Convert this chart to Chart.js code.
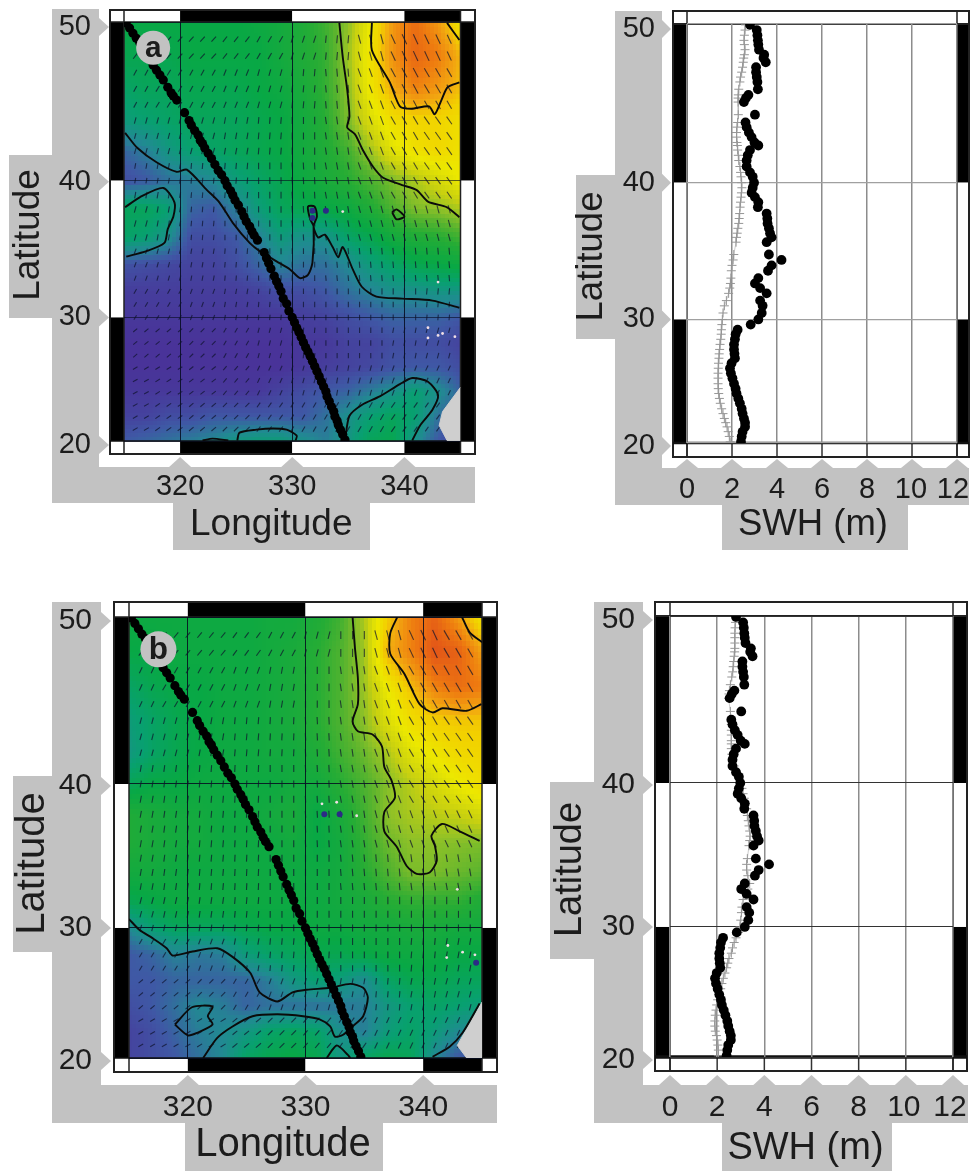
<!DOCTYPE html>
<html>
<head>
<meta charset="utf-8">
<title>SWH maps</title>
<script src="https://cdn.jsdelivr.net/npm/chart.js@4/dist/chart.umd.js"></script>
<style>
  html, body { margin: 0; padding: 0; background: #fff; overflow: hidden; }
  canvas { position: absolute; filter: blur(0.45px); }
</style>
</head>
<body>
<canvas id="mapA" width="500" height="570" style="left:0;top:0"></canvas>
<canvas id="swhA" width="472" height="570" style="left:500px;top:0"></canvas>
<canvas id="mapB" width="510" height="596" style="left:0;top:575px"></canvas>
<canvas id="swhB" width="462" height="596" style="left:510px;top:575px"></canvas>
<script>
// tick labels
const lonTicks = [320, 330, 340];
const latTicks = [50, 40, 30, 20];
const swhTicks = [0, 2, 4, 6, 8, 10, 12];

// altimeter track, one entry per black dot
const trackLat = [
  49.95,49.65,49.35,49.05,48.8,48.5,48.2,48.0,47.75,47.45,
  47.15,46.85,46.55,46.1,45.75,45.55,45.3,44.5,44.0,43.7,
  43.35,43.05,42.7,42.5,42.2,41.85,41.5,41.1,40.7,40.4,
  40.0,39.65,39.3,39.0,38.65,38.3,37.85,37.5,37.15,36.8,
  36.45,36.15,35.8,34.9,34.5,34.1,33.7,33.15,32.75,32.4,
  32.0,31.45,31.05,30.5,30.0,29.6,29.2,28.85,28.45,28.05,
  27.65,27.3,26.95,26.55,26.15,25.75,25.35,24.9,24.5,24.1,
  23.7,23.3,22.85,22.45,22.05,21.7,21.35,20.95,20.55,20.1];
const trackLon = [
  315.2,315.5,315.8,316.1,316.4,316.6,316.9,317.1,317.4,317.6,
  317.9,318.2,318.5,318.9,319.2,319.4,319.7,320.4,320.8,321.0,
  321.3,321.6,321.8,322.0,322.2,322.5,322.8,323.1,323.4,323.7,
  324.0,324.2,324.5,324.7,324.9,325.2,325.5,325.7,325.9,326.2,
  326.4,326.6,326.9,327.5,327.7,327.9,328.1,328.4,328.6,328.8,
  329.0,329.2,329.5,329.7,330.0,330.2,330.4,330.6,330.8,331.0,
  331.2,331.4,331.6,331.8,332.0,332.2,332.4,332.6,332.8,333.0,
  333.1,333.3,333.5,333.7,333.8,334.0,334.1,334.3,334.5,334.7];
const swhObs = [
  2.8,3.1,3.13,3.15,3.17,3.2,3.43,3.4,3.5,3.07,
  3.07,3.1,3.13,3.15,2.73,2.62,2.53,3.02,2.6,2.65,
  2.75,2.87,3.0,3.17,2.8,2.7,2.65,2.65,2.8,2.92,
  2.98,2.92,2.87,3.02,3.17,3.15,3.54,3.57,3.58,3.64,
  3.69,3.76,3.54,3.64,4.2,3.76,3.6,3.17,3.02,3.25,
  3.54,3.25,3.36,3.32,3.17,2.83,2.25,2.16,2.13,2.09,
  2.09,2.11,2.13,1.98,1.91,1.95,2.02,2.09,2.16,2.2,
  2.28,2.35,2.43,2.47,2.53,2.58,2.58,2.47,2.43,2.4];
const swhModelA = [
  2.6,2.58,2.55,2.53,2.55,2.58,2.55,2.52,2.5,2.47,
  2.43,2.38,2.35,2.3,2.28,2.27,2.27,2.28,2.25,2.22,
  2.2,2.2,2.22,2.24,2.25,2.28,2.3,2.35,2.38,2.4,
  2.43,2.44,2.42,2.4,2.38,2.36,2.34,2.32,2.3,2.26,
  2.23,2.2,2.18,2.08,2.05,2.0,1.97,1.95,1.93,1.9,
  1.85,1.75,1.66,1.6,1.57,1.55,1.53,1.52,1.5,1.47,
  1.45,1.43,1.42,1.4,1.39,1.38,1.38,1.38,1.39,1.41,
  1.44,1.48,1.54,1.6,1.66,1.72,1.78,1.83,1.88,1.92];
const swhModelB = [
  2.8,2.78,2.76,2.75,2.75,2.75,2.75,2.74,2.72,2.7,
  2.68,2.66,2.62,2.56,2.52,2.5,2.48,2.56,2.6,2.6,
  2.6,2.6,2.6,2.6,2.6,2.62,2.66,2.72,2.82,2.9,
  3.0,3.05,3.1,3.15,3.2,3.25,3.28,3.32,3.35,3.38,
  3.4,3.38,3.35,3.28,3.25,3.25,3.3,3.38,3.3,3.2,
  3.1,3.05,3.03,3.0,2.97,2.9,2.8,2.72,2.65,2.6,
  2.5,2.45,2.4,2.33,2.26,2.2,2.15,2.08,2.02,1.98,
  1.95,1.92,1.9,1.9,1.92,1.97,2.0,2.03,2.05,2.05];

// SWH colour field, rows run from 50N down to 20N, columns from 315 to 345
const gridLon = [315,317,319,321,323,325,327,329,331,333,335,337,339,341,343,345];
const gridLat = [50,48,46,44,42,40,38,36,34,32,30,28,26,24,22,20];
const fieldA = [
  [2.8,2.8,2.8,2.8,2.8,2.8,2.9,3.0,3.2,3.5,4.0,5.0,6.2,6.8,6.2,5.2],
  [2.7,2.7,2.7,2.8,2.8,2.8,2.8,3.0,3.2,3.4,4.1,5.2,6.3,6.9,6.6,5.9],
  [2.5,2.6,2.6,2.7,2.7,2.7,2.8,2.9,3.1,3.4,4.0,5.1,6.0,6.5,6.2,5.8],
  [2.3,2.4,2.5,2.6,2.6,2.6,2.7,2.8,3.0,3.3,3.9,4.7,5.3,5.5,5.5,5.3],
  [1.7,1.9,2.2,2.4,2.5,2.6,2.7,2.8,3.0,3.2,3.5,4.1,4.8,5.2,5.4,5.2],
  [1.5,1.6,1.8,1.9,2.0,2.3,2.5,2.7,2.9,3.1,3.3,3.6,3.9,4.2,4.6,5.0],
  [2.6,2.6,2.4,1.7,1.6,1.9,2.3,2.6,2.7,2.8,2.9,3.2,3.6,3.9,4.0,4.2],
  [2.5,2.4,2.1,1.5,1.5,1.6,1.9,2.3,2.1,2.1,2.5,2.7,3.0,3.2,3.3,3.5],
  [1.55,1.5,1.45,1.4,1.4,1.5,1.7,1.95,1.8,1.8,2.0,2.3,2.5,2.7,2.8,2.9],
  [1.35,1.35,1.35,1.35,1.35,1.35,1.4,1.5,1.5,1.6,1.8,1.95,2.1,2.1,2.2,2.2],
  [1.3,1.3,1.3,1.3,1.3,1.3,1.3,1.3,1.35,1.4,1.5,1.6,1.7,1.7,1.7,1.6],
  [1.25,1.25,1.25,1.25,1.25,1.25,1.25,1.25,1.3,1.3,1.4,1.4,1.5,1.5,1.5,1.4],
  [1.25,1.25,1.25,1.25,1.25,1.25,1.25,1.25,1.3,1.35,1.4,1.45,1.55,1.6,1.6,1.5],
  [1.3,1.3,1.3,1.3,1.3,1.3,1.3,1.4,1.5,1.6,1.7,1.9,2.1,2.4,2.1,1.7],
  [1.4,1.4,1.5,1.5,1.6,1.6,1.6,1.6,1.6,1.8,2.1,2.4,2.6,2.4,1.8,1.5],
  [1.6,1.7,1.8,1.9,2.0,2.2,2.3,2.3,2.1,1.9,2.2,2.6,2.7,2.1,1.6,1.4]];
const fieldB = [
  [2.9,2.9,2.9,2.9,2.9,2.9,3.0,3.0,3.2,3.5,4.2,5.6,6.5,7.0,6.2,5.2],
  [2.8,2.8,2.9,2.9,2.9,2.9,3.0,3.1,3.3,3.6,4.1,5.9,6.5,7.2,7.0,6.1],
  [2.5,2.7,2.8,2.8,2.9,2.9,3.0,3.1,3.3,3.6,4.1,5.0,5.8,6.5,6.8,6.6],
  [2.3,2.5,2.7,2.8,2.9,2.9,3.0,3.1,3.3,3.6,4.0,4.7,5.3,5.6,5.7,5.7],
  [2.2,2.5,2.7,2.8,2.9,2.9,3.0,3.0,3.2,3.5,3.8,4.2,4.8,5.1,5.4,5.5],
  [2.6,2.8,2.8,2.9,2.9,2.9,2.9,3.0,3.0,3.3,3.6,3.95,4.3,4.6,5.0,5.3],
  [3.2,3.1,3.0,3.0,2.9,2.9,3.0,3.1,2.8,3.1,3.5,4.0,4.2,4.3,4.4,4.6],
  [3.2,3.1,3.0,3.0,2.9,2.9,2.9,3.0,2.8,3.0,3.4,3.8,4.0,4.0,3.95,3.9],
  [3.0,3.0,2.9,2.9,2.9,2.9,2.9,2.9,2.9,3.0,3.3,3.6,3.9,3.9,3.8,3.7],
  [2.7,2.8,2.9,2.9,2.9,2.9,2.9,2.9,2.9,3.0,3.1,3.3,3.4,3.4,3.4,3.2],
  [2.0,2.4,2.6,2.6,2.6,2.7,2.8,2.8,2.9,2.9,3.0,3.0,3.1,3.1,3.0,3.0],
  [1.6,1.7,1.95,1.85,1.9,2.3,2.5,2.6,2.7,2.7,2.8,2.9,2.9,2.9,2.8,2.8],
  [1.6,1.6,1.7,1.7,1.7,1.7,1.9,2.2,2.4,2.3,2.0,2.5,2.7,2.7,2.6,2.6],
  [1.5,1.6,1.8,2.0,1.9,1.7,1.8,1.8,1.8,1.85,1.9,2.2,2.4,2.5,2.4,2.3],
  [1.4,1.5,1.7,1.9,2.0,2.2,2.5,2.6,2.5,2.1,1.9,2.3,2.5,2.3,2.0,1.9],
  [1.4,1.5,1.6,1.8,2.0,2.5,2.7,2.8,2.7,2.2,2.5,2.7,2.6,2.0,1.6,1.6]];

// wind sticks: tilt from vertical in degrees, one value per 3 x 3 degree box
const stickLon = [316,317,318,319,320,321,322,323,324,325,326,327,328,329,330,331,332,333,334,335,336,337,338,339,340,341,342,343,344];
const stickLat = [49,48,47,46,45,44,43,42,41,40,39,38,37,36,35,34,33,32,31,30,29,28,27,26,25,24,23,22,21];
const tiltA = [
  [38,42,42,38,30,18,5,-15,-25,-25],
  [28,32,28,22,15,5,-5,-20,-28,-30],
  [15,15,15,10,5,0,-8,-20,-30,-35],
  [10,10,5,5,0,-3,-10,-20,-30,-35],
  [15,10,5,0,0,-3,-10,-15,-15,-15],
  [20,15,10,5,0,0,-5,-5,-5,-5],
  [30,30,20,10,5,0,0,0,0,5],
  [50,50,45,30,15,5,0,0,10,15],
  [60,58,52,40,25,15,10,15,20,25],
  [60,55,50,45,35,30,30,30,35,35]];
const tiltB = [
  [36,40,40,36,28,15,0,-15,-25,-30],
  [25,30,28,20,10,0,-8,-20,-30,-30],
  [15,15,10,5,3,-3,-8,-20,-30,-35],
  [10,8,5,3,0,-3,-10,-20,-30,-35],
  [10,8,5,3,0,-3,-8,-15,-20,-25],
  [10,8,5,3,0,0,-5,-5,-8,-10],
  [15,12,8,5,0,0,0,0,0,0],
  [30,30,20,10,5,3,0,0,5,10],
  [50,50,45,30,20,15,10,5,10,15],
  [60,60,58,50,45,40,35,25,25,25]];

// contours of map a
const a1Lon = [334.2,334.5,334.9,335.1,334.9,335.6,336.3,337.2,338.1,339.8,341.1,342.1,343.8,344.9];
const a1Lat = [49.95,47.95,45.95,44.25,43.55,43.1,42.05,40.95,40.2,39.7,39.35,38.55,38.15,37.45];
const a2Lon = [315.1,316.2,317.9,319.7,320.6,322.4,323.5,324.7,326.2,327.1,328.6,329.8,330.7,331.4,331.8,331.9,331.6,331.4,332,332.2,331.9,332.3,332.9,333.6,334.1,334.5,335.4,336.2,337.5,339.8,342.5,344.9];
const a2Lat = [43.2,42.2,41.25,40.6,40.75,39.35,38.5,37.05,35.6,35,34.25,33.65,33,33.25,34.15,36.8,37.3,38.2,38.2,37.5,36.8,36,36.2,35.3,34.55,35.3,33.65,32.35,31.6,31.45,31.3,30.75];
const a3Lon = [337.1,337.1,338.7,339.6,340.6,342.2,342.7,343.3,343.85,344.9];
const a3Lat = [49.95,48.35,46.4,44.9,44.75,44.9,44.4,45.3,46.1,46.4];
const a4Lon = [343.8,344.9];
const a4Lat = [49.95,48.95];
const a5Lon = [315.1,316.4,318.5,319.5,319.4,318.9,318.6,317,315.2];
const a5Lat = [38.15,38.85,39.5,38.5,37.5,36.6,35.6,35,34.6];
const a6Lon = [338.9,339.3,340,339.3,338.9];
const a6Lat = [37.8,38,37.5,37.3,37.8];
const a7Lon = [334.7,335.1,336.2,337.8,339.6,340.7,342.1,343,342.5,341.4,340.7];
const a7Lat = [20.05,22.1,23,23.7,24.7,25.2,24.9,23.8,22.6,21.3,20.05];
const a8Lon = [325.1,325.3,326.8,328.3,329.5,330.4,330.3];
const a8Lat = [20.05,20.7,20.95,21.05,20.95,20.45,20.05];
const a9Lon = [322,322.9,324.3];
const a9Lat = [20.05,20.2,20.05];

// contours of map b
const b1Lon = [334,334.2,334.45,334.45,334,334.45,335.7,336.5,336.7,337.3,337.6,336.7,336.7,337.75,338.6,339.45,340.55,341.15,341,340.7,341.6,343.1,344.8];
const b1Lat = [50,48.3,46.55,45,43.95,43.35,43.15,42.4,41.1,40.25,39.1,38.15,36.85,35.8,34.45,33.9,34,34.8,35.85,36.55,37.35,36.85,36.2];
const b2Lon = [337.8,337.2,337.2,338.4,339.7,340.8,341.65,343.7,344.95];
const b2Lat = [50,49.1,47.95,46.8,45,44.5,44.75,44.6,45];
const b3Lon = [343.3,343.95,345];
const b3Lat = [50,49.15,48.6];
const b4Lon = [315,315.9,317,318.2,318.7,320.4,322.5,323.8,325.3,326.1,327.6,328.9,330.1,332.1,333.8,334.9,335.3,334.9,334,333.2,332.5,332.1,331.2,329.8,327.6,325.5,323.8,322.5,321.3];
const b4Lat = [30.65,29.85,29.25,28.5,27.95,28.25,28.5,27.85,26.65,25.15,24.45,25.15,25.35,25.5,25.8,25.5,24.75,23.3,22.5,21.85,21.7,22.5,23.05,23.3,23.45,23.3,22.5,21.6,20];
const b5Lon = [318.9,320.35,322.1,321.7,322.1,320.8,320,318.9];
const b5Lat = [22.65,24,24.05,23.3,22.65,22,21.8,22.65];
const b6Lon = [331.8,332.65,333.6,333.8];
const b6Lat = [20,21,20.25,20];
const b7Lon = [340.8,342.25,343.35,344.8];
const b7Lat = [20.1,20.9,22,24.3];

// land in the south east corner
const landALon = [345,343.4,343.1,343.8,345];
const landALat = [24.45,22.45,21.3,20.05,20.05];
const landBLon = [345,343.5,342.9,343.7,345];
const landBLat = [24.4,22,21,20,20];

// small islands, pale specks and dark blobs
const speckALon = [342.1,343.4,344.5,343,342.1,334.5,343];
const speckALat = [29.2,28.75,28.5,28.6,28.4,37.85,32.7];
const blobALon = [331.8,331.8,333];
const blobALat = [37.9,37.4,37.9];
const speckBLon = [342.1,343.35,344.4,342,342.9,334.35,332.65,331.4];
const speckBLat = [28.7,28.2,28,27.8,32.8,37.9,38.8,38.7];
const blobBLon = [331.6,332.9,344.5];
const blobBLat = [38,38,27.4];

// colour ramp of the field: SWH in metres and its colour
const rampValue = [1.2,1.6,2.0,2.4,2.8,3.3,3.7,4.0,4.4,5.0,5.6,6.0,6.6,7.2];
const rampColor = [[74,46,151],[63,88,165],[33,138,146],[8,160,112],[8,168,69],[37,172,53],[90,180,46],[140,192,40],[200,208,16],[236,232,0],[242,208,0],[242,168,16],[238,122,16],[226,85,24]];

const latBands = [[50,40,'#000'],[40,30,'#fff'],[30,20,'#000']];
const lonBands = [[315,320,'#fff'],[320,330,'#000'],[330,340,'#fff'],[340,345,'#000']];

const GREY = '#c2c2c2';
const INK = '#1c1c1c';

// page geometry of each panel
const panels = {
  mapA: { left: 0, top: 0, w: 500, h: 570,
    plot: [124, 22, 460.5, 441], frame: [110, 10, 475, 454],
    grey: [[52,9,99,503],[9,155,52,318],[52,467,475,503],[173,503,370,550]],
    yArrow: [99, 109], xArrow: [467, 457],
    tickFont: 29, titleFont: 37, yTickPad: 33, xTickPad: 29, xTitlePad: 23, yTitlePad: 7,
    labelShift: { 50: [0, 5], 20: [0, 4], 40: [0, 1] }, xTitleShift: -21, yTitleShift: 3.5,
    letter: 'a', letterPos: [317.6, 48.5], letterR: 17 },
  swhA: { left: 500, top: 0, w: 472, h: 570,
    plot: [687, 24, 957, 443], frame: [673, 11, 969, 457],
    grey: [[615,11,662,505],[576,175,615,339],[615,468,969,505],[722,505,908,550]],
    yArrow: [662, 671], xArrow: [468, 459],
    tickFont: 29, titleFont: 36.5, yTickPad: 32, xTickPad: 30, xTitlePad: 23, yTitlePad: 70,
    labelShift: { 50: [0, 5], 20: [0, 3], 12: [-4, 0], 10: [-1, 0] }, xTitleShift: -9, yTitleShift: 23 },
  mapB: { left: 0, top: 575, w: 510, h: 596,
    plot: [129, 617, 482, 1058], frame: [114, 602, 497, 1072],
    grey: [[52,602,101,1123],[13,776,52,952],[52,1085,497,1123],[185,1123,383,1171]],
    yArrow: [101, 111], xArrow: [1085, 1075],
    tickFont: 30, titleFont: 40, yTickPad: 37, xTickPad: 32, xTitlePad: 2, yTitlePad: 9,
    labelShift: { 50: [0, 4], 40: [0, 2], 20: [0, 3] }, xTitleShift: -22.5, yTitleShift: 26,
    letter: 'b', letterPos: [317.5, 48.2], letterR: 18 },
  swhB: { left: 510, top: 575, w: 462, h: 596,
    plot: [670, 616, 953, 1057], frame: [655, 602, 967, 1071],
    grey: [[594,602,643,1123],[550,782,594,959],[594,1085,968,1123],[722,1123,892,1171]],
    yArrow: [643, 653], xArrow: [1085, 1075],
    tickFont: 30, titleFont: 38, yTickPad: 35, xTickPad: 33, xTitlePad: 0, yTitlePad: 38,
    labelShift: { 50: [0, 4], 40: [0, 2], 20: [0, 3], 12: [-3, 0], 10: [-2, 0] }, xTitleShift: -6, yTitleShift: 33 }
};

function merc(lat) {
  return Math.log(Math.tan(Math.PI / 4 + lat * Math.PI / 360));
}

// linear scale, or Mercator when the axis asks for it, that also nudges its labels and title
class PanelScale extends Chart.LinearScale {
  static id = 'panel';
  static defaults = {};

  getPixelForValue(value) {
    if (!this.options.mercator) return super.getPixelForValue(value);
    const m0 = merc(this.min);
    return this.getPixelForDecimal((merc(value) - m0) / (merc(this.max) - m0));
  }
  getPadding() {
    return { left: 0, right: 0, top: 0, bottom: 0 };
  }
  _computeLabelItems(area) {
    const shift = panels[this.chart.canvas.id].labelShift;
    const items = super._computeLabelItems(area);
    for (const item of items) {
      const s = shift[item.label];
      if (s) {
        item.options.translation[0] += s[0];
        item.options.translation[1] += s[1];
      }
    }
    return items;
  }
  drawTitle() {
    const p = panels[this.chart.canvas.id];
    this.ctx.save();
    if (this.isHorizontal()) this.ctx.translate(p.xTitleShift, 0);
    else this.ctx.translate(0, p.yTitleShift);
    super.drawTitle();
    this.ctx.restore();
  }
}
Chart.register(PanelScale);

function swhColor(v) {
  let i = 0;
  while (i < rampValue.length - 2 && v > rampValue[i + 1]) i++;
  const t = Math.max(0, Math.min(1, (v - rampValue[i]) / (rampValue[i + 1] - rampValue[i])));
  const c0 = rampColor[i], c1 = rampColor[i + 1];
  return `rgb(${c0[0] + (c1[0] - c0[0]) * t},${c0[1] + (c1[1] - c0[1]) * t},${c0[2] + (c1[2] - c0[2]) * t})`;
}

function zipPoints(xs, ys) {
  return xs.map((x, i) => ({ x: x, y: ys[i] }));
}

// colour cells of a map, shaded between the grid nodes
function drawField(chart, field) {
  const ctx = chart.ctx, sx = chart.scales.x, sy = chart.scales.y;
  const steps = 6;
  ctx.save();
  ctx.beginPath();
  ctx.rect(chart.chartArea.left, chart.chartArea.top, chart.chartArea.width, chart.chartArea.height);
  ctx.clip();
  for (let r = 0; r < gridLat.length - 1; r++) {
    for (let c = 0; c < gridLon.length - 1; c++) {
      for (let i = 0; i < steps; i++) {
        for (let j = 0; j < steps; j++) {
          const u = (j + 0.5) / steps, v = (i + 0.5) / steps;
          const val = field[r][c] * (1 - u) * (1 - v) + field[r][c + 1] * u * (1 - v)
            + field[r + 1][c] * (1 - u) * v + field[r + 1][c + 1] * u * v;
          const x0 = sx.getPixelForValue(gridLon[c] + (gridLon[c + 1] - gridLon[c]) * j / steps);
          const x1 = sx.getPixelForValue(gridLon[c] + (gridLon[c + 1] - gridLon[c]) * (j + 1) / steps);
          const y0 = sy.getPixelForValue(gridLat[r] + (gridLat[r + 1] - gridLat[r]) * i / steps);
          const y1 = sy.getPixelForValue(gridLat[r] + (gridLat[r + 1] - gridLat[r]) * (i + 1) / steps);
          ctx.fillStyle = swhColor(val);
          ctx.fillRect(Math.floor(x0), Math.floor(y0), Math.ceil(x1) - Math.floor(x0), Math.ceil(y1) - Math.floor(y0));
        }
      }
    }
  }
  ctx.restore();
}

// grey label plates with their little arrows
function drawPlates(chart, p) {
  const ctx = chart.ctx, sx = chart.scales.x, sy = chart.scales.y;
  const ox = p.left, oy = p.top;
  ctx.save();
  ctx.fillStyle = GREY;
  for (const g of p.grey) ctx.fillRect(g[0] - ox, g[1] - oy, g[2] - g[0], g[3] - g[1]);
  for (const t of latTicks) {
    const s = p.labelShift[t];
    const y = sy.getPixelForValue(t) + (s ? s[1] : 0);
    ctx.beginPath();
    ctx.moveTo(p.yArrow[0] - ox, y - 9);
    ctx.lineTo(p.yArrow[1] - ox, y);
    ctx.lineTo(p.yArrow[0] - ox, y + 9);
    ctx.fill();
  }
  for (const t of sx.ticks) {
    const x = sx.getPixelForValue(t.value);
    ctx.beginPath();
    ctx.moveTo(x - 11, p.xArrow[0] - oy);
    ctx.lineTo(x, p.xArrow[1] - oy);
    ctx.lineTo(x + 11, p.xArrow[0] - oy);
    ctx.fill();
  }
  ctx.restore();
}

// checked black and white frame round the plot
function drawFrame(chart, p, isMap) {
  const ctx = chart.ctx, sx = chart.scales.x, sy = chart.scales.y;
  const a = chart.chartArea;
  const fl = p.frame[0] - p.left, ft = p.frame[1] - p.top, fr = p.frame[2] - p.left, fb = p.frame[3] - p.top;
  ctx.save();
  ctx.fillStyle = '#fff';
  ctx.fillRect(fl, ft, fr - fl, a.top - ft);
  ctx.fillRect(fl, a.bottom, fr - fl, fb - a.bottom);
  for (const b of latBands) {
    const y0 = sy.getPixelForValue(b[0]), y1 = sy.getPixelForValue(b[1]);
    ctx.fillStyle = b[2];
    ctx.fillRect(fl, y0, a.left - fl, y1 - y0);
    ctx.fillRect(a.right, y0, fr - a.right, y1 - y0);
  }
  if (isMap) {
    for (const b of lonBands) {
      const x0 = sx.getPixelForValue(b[0]), x1 = sx.getPixelForValue(b[1]);
      ctx.fillStyle = b[2];
      ctx.fillRect(x0, ft, x1 - x0, a.top - ft);
      ctx.fillRect(x0, a.bottom, x1 - x0, fb - a.bottom);
    }
  } else {
    ctx.strokeStyle = '#333';
    ctx.lineWidth = 1.5;
    for (const t of sx.ticks) {
      const x = sx.getPixelForValue(t.value);
      ctx.beginPath();
      ctx.moveTo(x, a.bottom);
      ctx.lineTo(x, fb);
      ctx.stroke();
    }
  }
  ctx.strokeStyle = '#222';
  ctx.lineWidth = 2;
  ctx.strokeRect(fl, ft, fr - fl, fb - ft);
  ctx.lineWidth = 1.5;
  ctx.beginPath();
  ctx.moveTo(a.left, ft);
  ctx.lineTo(a.left, fb);
  ctx.moveTo(a.right, ft);
  ctx.lineTo(a.right, fb);
  ctx.stroke();
  ctx.lineWidth = isMap ? 1.5 : 2;
  ctx.beginPath();
  ctx.moveTo(fl, a.top);
  ctx.lineTo(fr, a.top);
  ctx.stroke();
  ctx.lineWidth = isMap ? 1.5 : (p === panels.swhB ? 3.5 : 2.5);
  ctx.strokeStyle = '#111';
  ctx.beginPath();
  ctx.moveTo(fl, a.bottom);
  ctx.lineTo(fr, a.bottom);
  ctx.stroke();
  ctx.restore();
}

const panelPlugin = {
  id: 'panelPlugin',
  beforeDraw(chart) {
    const p = panels[chart.canvas.id];
    const field = chart.canvas.id === 'mapA' ? fieldA : chart.canvas.id === 'mapB' ? fieldB : null;
    drawPlates(chart, p);
    if (field) drawField(chart, field);
    drawFrame(chart, p, !!field);
  },
  afterDraw(chart) {
    const p = panels[chart.canvas.id];
    if (!p.letter) return;
    const ctx = chart.ctx;
    const x = chart.scales.x.getPixelForValue(p.letterPos[0]);
    const y = chart.scales.y.getPixelForValue(p.letterPos[1]);
    ctx.save();
    ctx.fillStyle = GREY;
    ctx.beginPath();
    ctx.arc(x, y, p.letterR, 0, Math.PI * 2);
    ctx.fill();
    ctx.fillStyle = INK;
    ctx.font = 'bold ' + (p.letterR * 1.75) + 'px "Liberation Sans"';
    ctx.textAlign = 'center';
    ctx.textBaseline = 'middle';
    ctx.fillText(p.letter, x, y + 1);
    ctx.restore();
  }
};

function scaleOptions(id, cfg) {
  const p = panels[id];
  const isX = cfg.axis === 'x';
  return {
    type: 'panel',
    position: isX ? 'bottom' : 'left',
    min: cfg.min,
    max: cfg.max,
    mercator: !isX,
    afterFit(s) {
      if (isX) s.height = p.top + p.h - p.plot[3];
      else s.width = p.plot[0] - p.left;
    },
    afterBuildTicks(s) {
      s.ticks = cfg.ticks.map(v => ({ value: v }));
    },
    grid: { color: cfg.gridColor, lineWidth: cfg.gridWidth, drawTicks: false },
    border: { display: false },
    ticks: {
      autoSkip: false,
      maxRotation: 0,
      minRotation: 0,
      padding: isX ? p.xTickPad : p.yTickPad,
      color: INK,
      font: { family: '"Liberation Sans"', size: p.tickFont },
      callback: v => String(v)
    },
    title: {
      display: true,
      text: cfg.title,
      color: INK,
      font: { family: '"Liberation Sans"', size: p.titleFont },
      padding: isX ? { top: 0, bottom: p.xTitlePad } : { top: p.yTitlePad, bottom: 0 }
    }
  };
}

function buildChart(id, datasets, xCfg, yCfg) {
  const p = panels[id];
  return new Chart(document.getElementById(id), {
    type: 'scatter',
    data: { datasets: datasets },
    options: {
      responsive: false,
      animation: false,
      devicePixelRatio: 1,
      layout: { padding: { top: p.plot[1] - p.top, right: p.left + p.w - p.plot[2], left: 0, bottom: 0 } },
      plugins: { legend: { display: false }, tooltip: { enabled: false }, title: { display: false } },
      scales: { x: scaleOptions(id, xCfg), y: scaleOptions(id, yCfg) }
    },
    plugins: [panelPlugin]
  });
}

function mapDatasets(field, tilt, contours, landLon, landLat, speckLon, speckLat, blobLon, blobLat) {
  const sticks = [], rotation = [], radius = [];
  stickLat.forEach(lat => {
    stickLon.forEach(lon => {
      const row = Math.min(tilt.length - 1, Math.floor((50 - lat) / 3));
      const col = Math.min(tilt[0].length - 1, Math.floor((lon - 315) / 3));
      sticks.push({ x: lon, y: lat });
      rotation.push(tilt[row][col] - 90);
      // stronger sea, longer stick
      const swh = field[Math.round((50 - lat) / 2)][Math.round((lon - 315) / 2)];
      radius.push(2 + 0.5 * swh);
    });
  });
  const sets = [{
    label: 'Wind', data: sticks, order: 6, showLine: false, pointStyle: 'line',
    pointRadius: radius, pointBorderWidth: 1.1, pointBorderColor: 'rgba(14,20,44,0.72)', pointRotation: rotation
  }, {
    label: 'Land', data: zipPoints(landLon, landLat), order: 5, showLine: true, fill: 'shape',
    backgroundColor: '#cfcfcf', borderColor: '#cfcfcf', borderWidth: 1, pointRadius: 0
  }];
  contours.forEach((c, i) => {
    sets.push({
      label: 'Contour ' + (i + 1), data: zipPoints(c[0], c[1]), order: 3, showLine: true,
      borderColor: '#0b0b0b', borderWidth: 1.9, pointRadius: 0, tension: 0.25
    });
  });
  sets.push({
    label: 'Specks', data: zipPoints(speckLon, speckLat), order: 2, showLine: false,
    pointRadius: 1.4, pointBorderWidth: 0, pointBackgroundColor: '#f1dfe6'
  }, {
    label: 'Blobs', data: zipPoints(blobLon, blobLat), order: 2, showLine: false,
    pointRadius: 3, pointBorderWidth: 0, pointBackgroundColor: '#2b2a86'
  }, {
    label: 'Track', data: zipPoints(trackLon, trackLat), order: 0, showLine: false,
    pointRadius: 4.6, pointBorderWidth: 0, pointBackgroundColor: '#000'
  });
  return sets;
}

function swhDatasets(model) {
  return [{
    label: 'Model', data: zipPoints(model, trackLat), order: 2, showLine: true,
    borderColor: 'rgba(170,170,170,0.6)', borderWidth: 1, pointStyle: 'cross',
    pointRadius: 4.5, pointBorderWidth: 1, pointBorderColor: '#969696'
  }, {
    label: 'Altimeter', data: zipPoints(swhObs, trackLat), order: 1, showLine: false,
    pointRadius: 4.9, pointBorderWidth: 0, pointBackgroundColor: '#000'
  }];
}

const contoursA = [[a1Lon,a1Lat],[a2Lon,a2Lat],[a3Lon,a3Lat],[a4Lon,a4Lat],[a5Lon,a5Lat],[a6Lon,a6Lat],[a7Lon,a7Lat],[a8Lon,a8Lat],[a9Lon,a9Lat]];
const contoursB = [[b1Lon,b1Lat],[b2Lon,b2Lat],[b3Lon,b3Lat],[b4Lon,b4Lat],[b5Lon,b5Lat],[b6Lon,b6Lat],[b7Lon,b7Lat]];

const lonAxis = { axis: 'x', min: 315, max: 345, ticks: lonTicks, title: 'Longitude', gridColor: 'rgba(5,10,30,0.85)', gridWidth: 1 };
const swhAxis = { axis: 'x', min: 0, max: 12, ticks: swhTicks, title: 'SWH (m)', gridColor: '#8c8c8c', gridWidth: 1.5 };

buildChart('mapA', mapDatasets(fieldA, tiltA, contoursA, landALon, landALat, speckALon, speckALat, blobALon, blobALat), lonAxis,
  { axis: 'y', min: 20, max: 50, ticks: latTicks, title: 'Latitude', gridColor: 'rgba(5,10,30,0.6)', gridWidth: 1 });
buildChart('swhA', swhDatasets(swhModelA), swhAxis,
  { axis: 'y', min: 20, max: 50, ticks: latTicks, title: 'Latitude', gridColor: '#a0a0a0', gridWidth: 1.2 });
buildChart('mapB', mapDatasets(fieldB, tiltB, contoursB, landBLon, landBLat, speckBLon, speckBLat, blobBLon, blobBLat), lonAxis,
  { axis: 'y', min: 20, max: 50, ticks: latTicks, title: 'Latitude', gridColor: 'rgba(5,10,30,0.85)', gridWidth: 1 });
buildChart('swhB', swhDatasets(swhModelB), swhAxis,
  { axis: 'y', min: 20, max: 50, ticks: latTicks, title: 'Latitude', gridColor: '#333', gridWidth: 1 });
</script>
</body>
</html>
